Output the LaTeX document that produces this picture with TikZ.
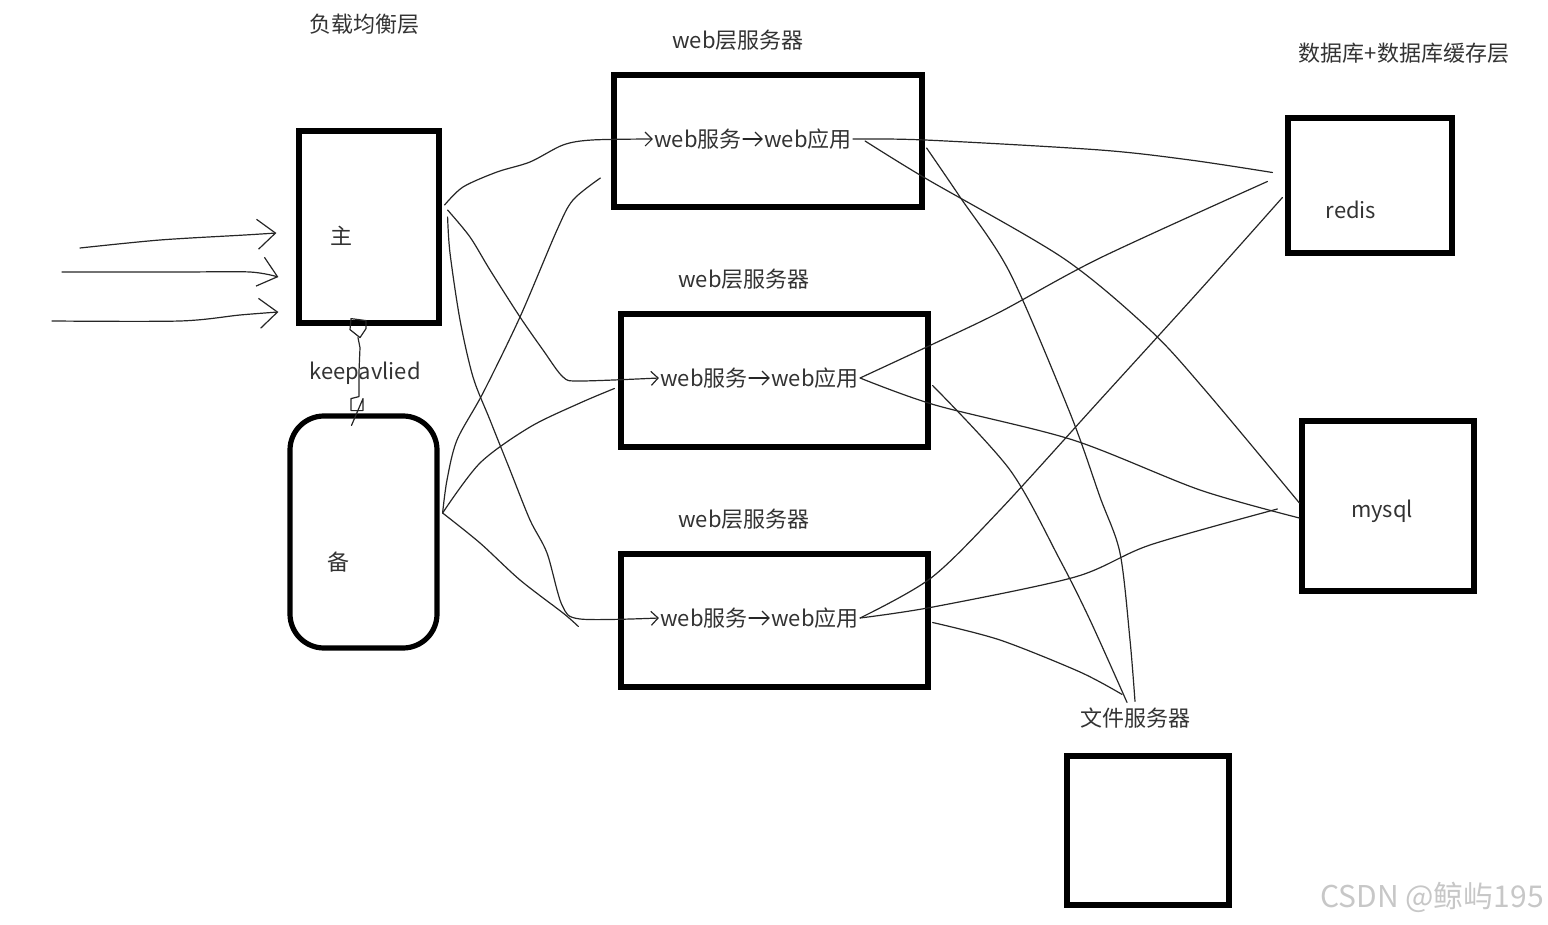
\documentclass[tikz,border=0pt]{standalone}
\usepackage{fontspec}
\setmainfont{Noto Sans CJK SC}
\usetikzlibrary{arrows.meta,calc}
\begin{document}
\begin{tikzpicture}[x=0.5pt,y=-0.5pt,
  box/.style={draw=black, line width=2.6pt, inner sep=0pt},
  wire/.style={draw=black!85, line width=0.6pt, line join=round, line cap=round},
  txt/.style={text=black!80, font=\fontsize{11}{13}\selectfont, inner sep=0.5pt},
  bigtip/.style={-{Straight Barb[length=9pt,width=15pt,line width=0.6pt]}},
  smalltip/.style={-{Straight Barb[length=3.5pt,width=7pt,line width=0.6pt]}},
]
\useasboundingbox (0,0) rectangle (1548,925);

% boxes
\node[box, minimum width=70pt, minimum height=96pt] (master) at (369,227) {};
\node[box, rounded corners=17pt, minimum width=73.5pt, minimum height=116pt] (backup) at (363.5,532) {};
\node[box, minimum width=154pt, minimum height=66pt] (web1) at (768,141) {};
\node[box, minimum width=153.5pt, minimum height=66.5pt] (web2) at (774.5,380.5) {};
\node[box, minimum width=153.5pt, minimum height=66.5pt] (web3) at (774.5,620.5) {};
\node[box, minimum width=82pt, minimum height=67.5pt] (redis) at (1370,185.5) {};
\node[box, minimum width=86pt, minimum height=85pt] (mysql) at (1388,506) {};
\node[box, minimum width=81pt, minimum height=74.5pt] (file) at (1148,830.5) {};

% labels
\node[txt] (lbl) at (364,24) {负载均衡层};
\node[txt] (t1) at (738,40) {web层服务器};
\node[txt] (t2) at (744,279) {web层服务器};
\node[txt] (t3) at (744,519) {web层服务器};
\node[txt] (tdb) at (1404,53) {数据库+数据库缓存层};
\node[txt] (zhu) at (341,236) {主};
\node[txt] (bei) at (338,562) {备};
\node[txt] (ka) at (365,373) {keepavlied};
\node[txt] (rl) at (1351,210) {redis};
\node[txt] (ml) at (1382,511) {mysql};
\node[txt] (fl) at (1135,718) {文件服务器};
\node[txt] (s1) at (698,139) {web服务};
\node[txt] (a1) at (808,139) {web应用};
\node[txt] (s2) at (704,378) {web服务};
\node[txt] (a2) at (815,378) {web应用};
\node[txt] (s3) at (704,618) {web服务};
\node[txt] (a3) at (815,618) {web应用};
\node[text=black!22, font=\fontsize{15}{17}\selectfont, inner sep=0pt] (wm) at (1432,897) {CSDN @鲸屿195};

% incoming requests
\coordinate (in1) at (80,248);
\coordinate (in2) at (62,272);
\coordinate (in3) at (52,321);
\draw[wire,bigtip] plot[smooth] coordinates {(in1) (160,240) (245,235) ($(master.west)+(-20,6)$)};
\draw[wire,bigtip] plot[smooth] coordinates {(in2) (180,272) (250,272) ($(master.west)+(-18,50)$)};
\draw[wire,bigtip] plot[smooth] coordinates {(in3) (180,321) (240,315) ($(master.west)+(-18,85)$)};

% keepalived link
\draw[wire] ($(master.south)+(-18,-7)$) -- ++(15,2) -- ++(0,8) -- ++(-6,9) -- ++(-10,-8) -- cycle;
\draw[wire] ($(master.south)+(-11,12)$) -- ++(2,10) -- ++(-1,24) -- ++(0,25) -- ++(-8,2) -- ++(0,12) -- ++(12,0) -- ++(0,-12)
  -- ($(backup.north)+(-12,12)$);

% load balancer -> web servers
\draw[wire,smalltip] plot[smooth] coordinates {($(master.east)+(3,-22)$) (463,187) (497,172) (530,162) (563,145) (592,140) (s1.west)};
\draw[wire,smalltip] plot[smooth] coordinates {($(master.east)+(6,-17)$) (470,237) (490,270) (520,317) (543,350) (563,377) (580,381) (s2.west)};
\draw[wire,smalltip] plot[smooth] coordinates {($(master.east)+(6,-10)$) (450,253) (460,320) (473,377) (490,420) (510,470) (530,520) (547,553) (562,605) (580,619) (s3.west)};
\draw[wire] plot[smooth] coordinates {($(backup.east)+(3,-19)$) (447,480) (457,440) (483,393) (520,317) (557,230) (573,200) ($(web1.west)+(-11,37)$)};
\draw[wire] plot[smooth] coordinates {($(backup.east)+(3,-19)$) (480,463) (530,427) (580,403) ($(web2.west)+(-4,8)$)};
\draw[wire] plot[smooth] coordinates {($(backup.east)+(3,-19)$) (480,543) (520,580) (563,613) ($(web3.west)+(-40,6)$)};

% inside web servers
\draw[wire,smalltip] (s1.east) -- (a1.west);
\draw[wire,smalltip] (s2.east) -- (a2.west);
\draw[wire,smalltip] (s3.east) -- (a3.west);

% web servers -> data layer
\draw[wire] plot[smooth] coordinates {(a1.east) (925,140) (1100,150) (1190,160) ($(redis.west)+(-13,-13)$)};
\draw[wire] plot[smooth] coordinates {($(a1.east)+(12,2)$) (925,178) (1063,258) (1150,330) (1205,390) ($(mysql.west)+(0,-3)$)};
\draw[wire] plot[smooth] coordinates {($(web1.east)+(2,7)$) (960,197) (1010,273) (1070,413) (1100,497) (1120,553) (1130,640) ($(fl.north)+(0,-5)$)};
\draw[wire] plot[smooth] coordinates {(a2.east) (931,345) (1000,312) (1100,258) ($(redis.west)+(-18,-4)$)};
\draw[wire] plot[smooth] coordinates {(a2.east) (935,405) (1073,440) (1200,490) ($(mysql.west)+(0,12)$)};
\draw[wire] plot[smooth] coordinates {($(web2.east)+(2,5)$) (1010,470) (1060,560) (1090,620) ($(fl.north)+(-8,-4)$)};
\draw[wire] plot[smooth] coordinates {(a3.east) (931,578) (1000,510) (1100,400) (1200,290) ($(redis.west)+(-3,12)$)};
\draw[wire] plot[smooth] coordinates {(a3.east) (933,607) (1075,577) (1150,545) ($(mysql.west)+(-22,3)$)};
\draw[wire] plot[smooth] coordinates {($(web3.east)+(2,2)$) (1000,640) (1080,672) ($(fl.north)+(-13,-12)$)};
\end{tikzpicture}
\end{document}
